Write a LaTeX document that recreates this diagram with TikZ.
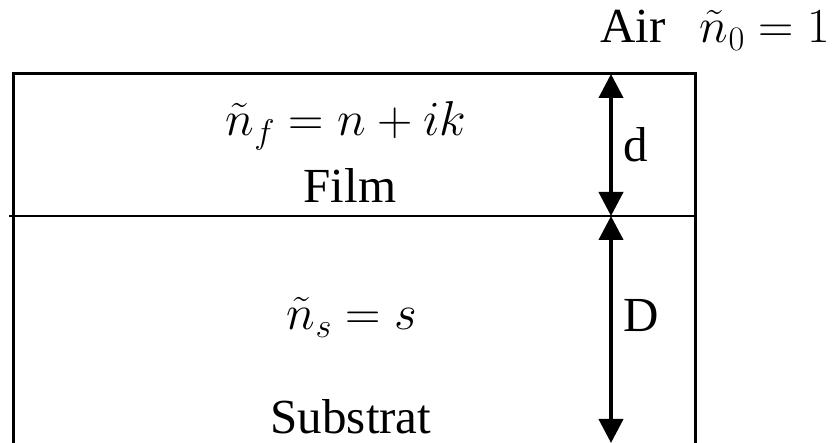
\documentclass[tikz,border=0pt]{standalone}
\usepackage{fix-cm}
\usepackage{amsmath}
\usepackage{fontspec}
\setmainfont{Liberation Serif}
\usetikzlibrary{arrows.meta,positioning}
\colorlet{linecolor}{black}

\begin{document}
\begin{tikzpicture}[x=1pt, y=-1pt,
  layer/.style={line width=3pt, draw=linecolor},
  lbl/.style={font=\fontsize{49}{56}\selectfont, inner sep=0pt, anchor=base},
  dim/.style={{Triangle[length=24pt,width=24pt]}-{Triangle[length=24pt,width=24pt]}, line width=4pt, draw=linecolor}
]
\useasboundingbox (0,0) rectangle (833,443);

% sample outline
\coordinate (tl) at (13,74);
\coordinate (tr) at (695,74);
\coordinate (bl) at (13,443);
\coordinate (br) at (695,443);
\coordinate (ml) at (9,216);
\coordinate (mr) at (695,216);
\draw[layer] (bl) -- (tl) -- (tr) -- (br);
\draw[layer, line width=2.5pt] (ml) -- (mr);

% thickness arrows
\coordinate (dtop) at (611,74);
\coordinate (dmid) at (611,216);
\coordinate (dbot) at (611,443);
\draw[dim] (dtop) -- (dmid);
\draw[dim] (dmid) -- (dbot);

\node[lbl] (nfilm) at (346,136) {$\tilde{n}_f = n + ik$};
\node[lbl] (film) at (350,203) {Film};
\node[lbl] (dlab) at (636,162) {d};
\node[lbl] (nsub) at (352,330) {$\tilde{n}_s = s$};
\node[lbl] (Dlab) at (641,332) {D};
\node[lbl] (sub) at (351,434) {Substrat};
\node[lbl, anchor=base east] (air) at (830,43) {Air\hspace{0.7em}$\tilde{n}_0 = 1$};
\end{tikzpicture}
\end{document}
